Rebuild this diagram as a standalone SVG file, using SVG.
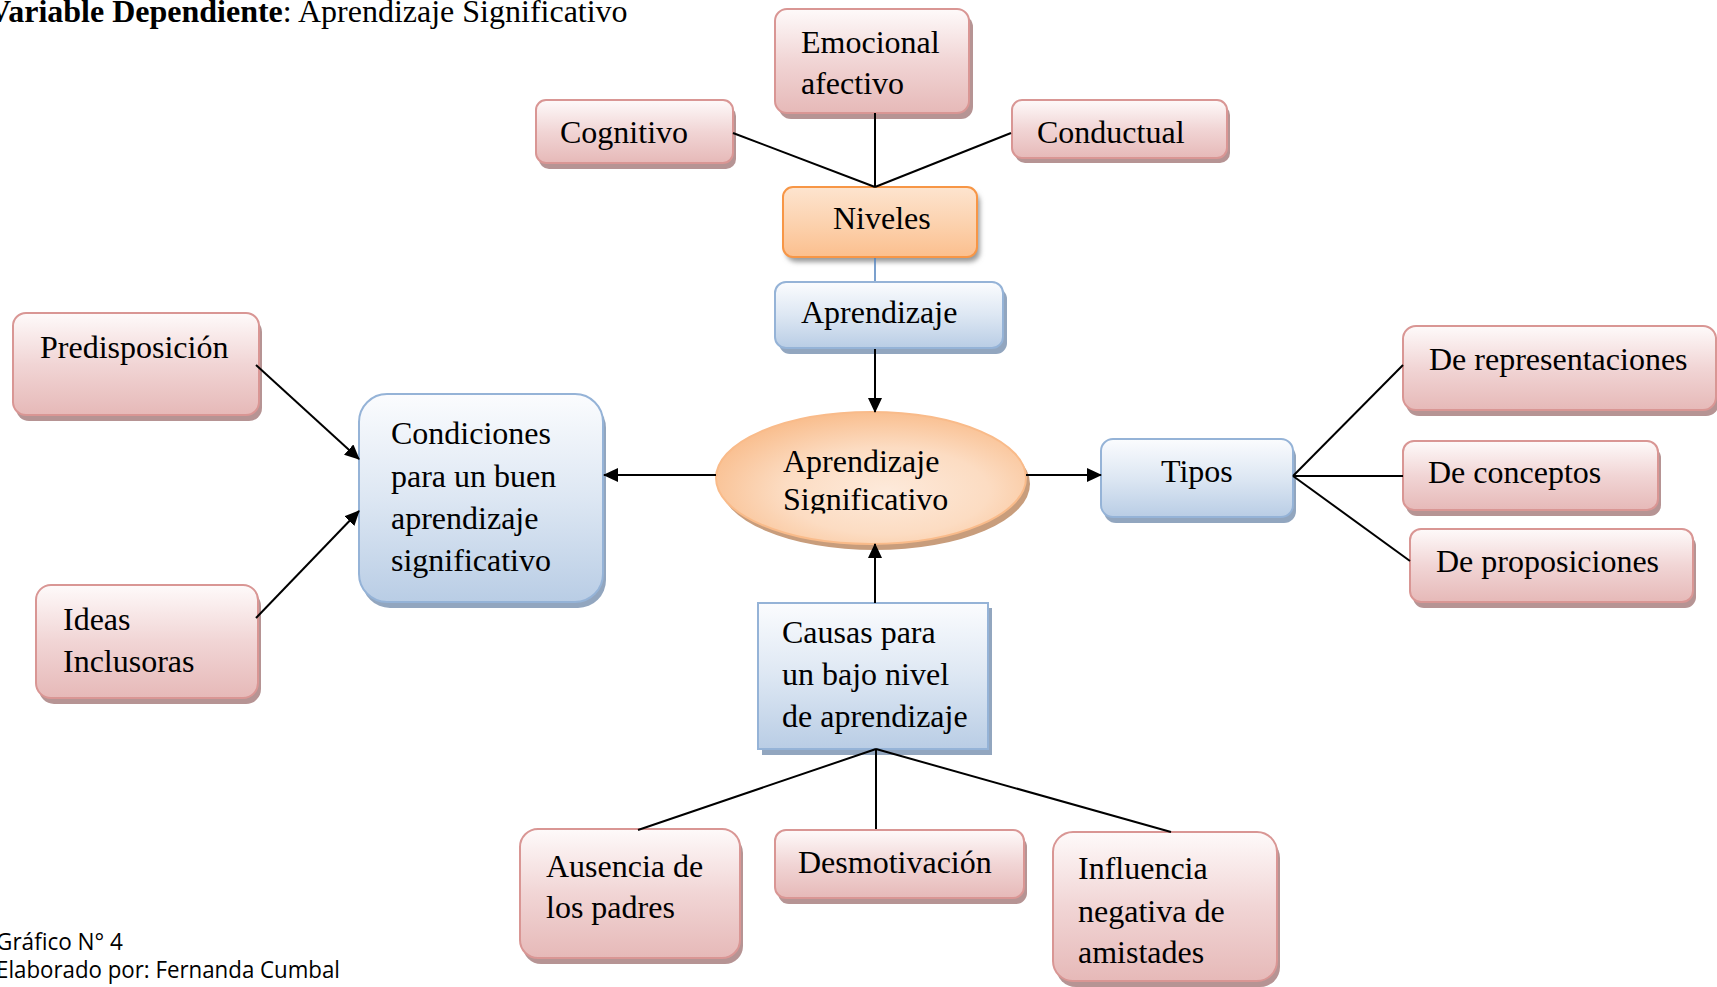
<svg xmlns="http://www.w3.org/2000/svg" width="1717" height="987" viewBox="0 0 1717 987">
<defs>
  <linearGradient id="gPink" x1="0" y1="0" x2="0" y2="1">
    <stop offset="0" stop-color="#fefafa"/>
    <stop offset="0.5" stop-color="#f1d5d5"/>
    <stop offset="1" stop-color="#e6b9b8"/>
  </linearGradient>
  <linearGradient id="gBlue" x1="0" y1="0" x2="0" y2="1">
    <stop offset="0" stop-color="#fbfcfe"/>
    <stop offset="0.5" stop-color="#dde7f3"/>
    <stop offset="1" stop-color="#b9cde5"/>
  </linearGradient>
  <linearGradient id="gOrange" x1="0" y1="0" x2="0" y2="1">
    <stop offset="0" stop-color="#fde4cf"/>
    <stop offset="0.5" stop-color="#fcd3b0"/>
    <stop offset="1" stop-color="#fbbf8e"/>
  </linearGradient>
  <radialGradient id="gEll" cx="0.55" cy="0.6" r="0.6">
    <stop offset="0" stop-color="#fdeadb"/>
    <stop offset="0.55" stop-color="#fcdcc2"/>
    <stop offset="1" stop-color="#f9bf90"/>
  </radialGradient>
  <filter id="soft" x="-10%" y="-20%" width="120%" height="150%">
    <feGaussianBlur stdDeviation="2.5"/>
  </filter>
  <clipPath id="ellClip">
    <rect x="700" y="400" width="340" height="113.5"/>
  </clipPath>
  <marker id="arr" markerUnits="userSpaceOnUse" markerWidth="15" markerHeight="14" refX="14" refY="7" orient="auto">
    <path d="M0,0 L15,7 L0,14 z" fill="#000"/>
  </marker>
  <style>
    text { font-family: "Liberation Serif", "Times New Roman", serif; font-size: 32px; fill: #000; }
    .cap { font-family: "Open Sans", "Liberation Sans", sans-serif; font-size: 23px; }
    .pink { fill: url(#gPink); stroke: #d99694; stroke-width: 2; }
    .pinkSh { fill: #b69494; }
    .blue { fill: url(#gBlue); stroke: #95b3d7; stroke-width: 2; }
    .blueSh { fill: #92a6bf; }
    .orange { fill: url(#gOrange); stroke: #f79646; stroke-width: 2; }
    .orangeSh { fill: #9a9a9a; }
    .ell { fill: url(#gEll); stroke: #f9bb8a; stroke-width: 2; }
    .ellSh { fill: #c89d7c; }
    .ln { stroke: #000; stroke-width: 2; fill: none; }
    .ar { stroke: #000; stroke-width: 2; fill: none; marker-end: url(#arr); }
  </style>
</defs>

<rect width="1717" height="987" fill="#ffffff"/>

<text x="-12" y="22"><tspan font-weight="bold">Variable Dependiente</tspan>: Aprendizaje Significativo</text>

<g id="n-emocional">
  <rect class="pinkSh" x="779" y="15" width="194" height="104" rx="12"/>
  <rect class="pink" x="775" y="9" width="194" height="104" rx="12"/>
  <text x="801" y="53">Emocional</text>
  <text x="801" y="94">afectivo</text>
</g>
<g id="n-cognitivo">
  <rect class="pinkSh" x="539" y="106" width="197" height="63" rx="10"/>
  <rect class="pink" x="536" y="100" width="197" height="63" rx="10"/>
  <text x="560" y="143">Cognitivo</text>
</g>
<g id="n-conductual">
  <rect class="pinkSh" x="1015" y="105" width="215" height="58" rx="10"/>
  <rect class="pink" x="1012" y="100" width="215" height="58" rx="10"/>
  <text x="1037" y="143">Conductual</text>
</g>
<g id="n-niveles">
  <rect class="orangeSh" x="786" y="192" width="194" height="70" rx="10" filter="url(#soft)"/>
  <rect class="orange" x="783" y="187" width="194" height="70" rx="10"/>
  <text x="833" y="229">Niveles</text>
</g>
<g id="n-aprendizaje">
  <rect class="blueSh" x="779" y="288" width="228" height="66" rx="11"/>
  <rect class="blue" x="775" y="282" width="228" height="66" rx="11"/>
  <text x="801" y="323">Aprendizaje</text>
</g>
<g id="n-predisposicion">
  <rect class="pinkSh" x="16" y="319" width="246" height="102" rx="13"/>
  <rect class="pink" x="13" y="313" width="246" height="102" rx="13"/>
  <text x="40" y="358">Predisposición</text>
</g>
<g id="n-condiciones">
  <rect class="blueSh" x="362" y="400" width="244" height="208" rx="28"/>
  <rect class="blue" x="359" y="394" width="244" height="208" rx="28"/>
  <text x="391" y="444">Condiciones</text>
  <text x="391" y="487">para un buen</text>
  <text x="391" y="529">aprendizaje</text>
  <text x="391" y="571">significativo</text>
</g>
<g id="n-ideas">
  <rect class="pinkSh" x="39" y="591" width="222" height="113" rx="15"/>
  <rect class="pink" x="36" y="585" width="222" height="113" rx="15"/>
  <text x="63" y="630">Ideas</text>
  <text x="63" y="672">Inclusoras</text>
</g>
<g id="n-aprendizaje-significativo">
  <ellipse class="ellSh" cx="875" cy="484" rx="155" ry="66"/>
  <ellipse class="ell" cx="871" cy="478" rx="155" ry="66"/>
  <g clip-path="url(#ellClip)">
    <text x="783" y="472">Aprendizaje</text>
    <text x="783" y="510">Significativo</text>
  </g>
</g>
<g id="n-tipos">
  <rect class="blueSh" x="1104" y="445" width="192" height="78" rx="12"/>
  <rect class="blue" x="1101" y="439" width="192" height="78" rx="12"/>
  <text x="1161" y="482">Tipos</text>
</g>
<g id="n-representaciones">
  <rect class="pinkSh" x="1406" y="332" width="313" height="84" rx="13"/>
  <rect class="pink" x="1403" y="326" width="313" height="84" rx="13"/>
  <text x="1429" y="370">De representaciones</text>
</g>
<g id="n-conceptos">
  <rect class="pinkSh" x="1406" y="447" width="255" height="69" rx="11"/>
  <rect class="pink" x="1403" y="441" width="255" height="69" rx="11"/>
  <text x="1428" y="483">De conceptos</text>
</g>
<g id="n-proposiciones">
  <rect class="pinkSh" x="1413" y="535" width="283" height="73" rx="11"/>
  <rect class="pink" x="1410" y="529" width="283" height="73" rx="11"/>
  <text x="1436" y="572">De proposiciones</text>
</g>
<g id="n-causas">
  <rect class="blueSh" x="762" y="608" width="230" height="147"/>
  <rect class="blue" x="758" y="603" width="230" height="146"/>
  <text x="782" y="643">Causas para</text>
  <text x="782" y="685">un bajo nivel</text>
  <text x="782" y="727">de aprendizaje</text>
</g>
<g id="n-ausencia">
  <rect class="pinkSh" x="523" y="835" width="220" height="129" rx="18"/>
  <rect class="pink" x="520" y="829" width="220" height="129" rx="18"/>
  <text x="546" y="877">Ausencia de</text>
  <text x="546" y="918">los padres</text>
</g>
<g id="n-desmotivacion">
  <rect class="pinkSh" x="778" y="836" width="249" height="68" rx="11"/>
  <rect class="pink" x="775" y="830" width="249" height="68" rx="11"/>
  <text x="798" y="873">Desmotivación</text>
</g>
<g id="n-influencia">
  <rect class="pinkSh" x="1056" y="838" width="224" height="149" rx="20"/>
  <rect class="pink" x="1053" y="832" width="224" height="149" rx="20"/>
  <text x="1078" y="879">Influencia</text>
  <text x="1078" y="922">negativa de</text>
  <text x="1078" y="963">amistades</text>
</g>

<g id="connectors">
  <line class="ln" x1="733" y1="133" x2="875" y2="187"/>
  <line class="ln" x1="875" y1="113" x2="875" y2="187"/>
  <line class="ln" x1="1011" y1="133" x2="875" y2="187"/>
  <line x1="875" y1="258" x2="875" y2="281" stroke="#4f81bd" stroke-width="1.5"/>
  <line class="ar" x1="875" y1="349" x2="875" y2="412"/>
  <line class="ar" x1="716" y1="475" x2="604" y2="475"/>
  <line class="ar" x1="1026" y1="475" x2="1101" y2="475"/>
  <line class="ar" x1="875" y1="603" x2="875" y2="544"/>
  <line class="ar" x1="256" y1="365" x2="359" y2="459"/>
  <line class="ar" x1="256" y1="618" x2="359" y2="511"/>
  <line class="ln" x1="1293" y1="476" x2="1403" y2="365"/>
  <line class="ln" x1="1293" y1="476" x2="1403" y2="476"/>
  <line class="ln" x1="1293" y1="476" x2="1410" y2="561"/>
  <line class="ln" x1="876" y1="749" x2="638" y2="830"/>
  <line class="ln" x1="876" y1="749" x2="876" y2="829"/>
  <line class="ln" x1="876" y1="749" x2="1171" y2="832"/>
</g>

<text class="cap" x="-4" y="950" textLength="127" lengthAdjust="spacingAndGlyphs">Gráfico N° 4</text>
<text class="cap" x="-4" y="978" textLength="344" lengthAdjust="spacingAndGlyphs">Elaborado por: Fernanda Cumbal</text>
</svg>
